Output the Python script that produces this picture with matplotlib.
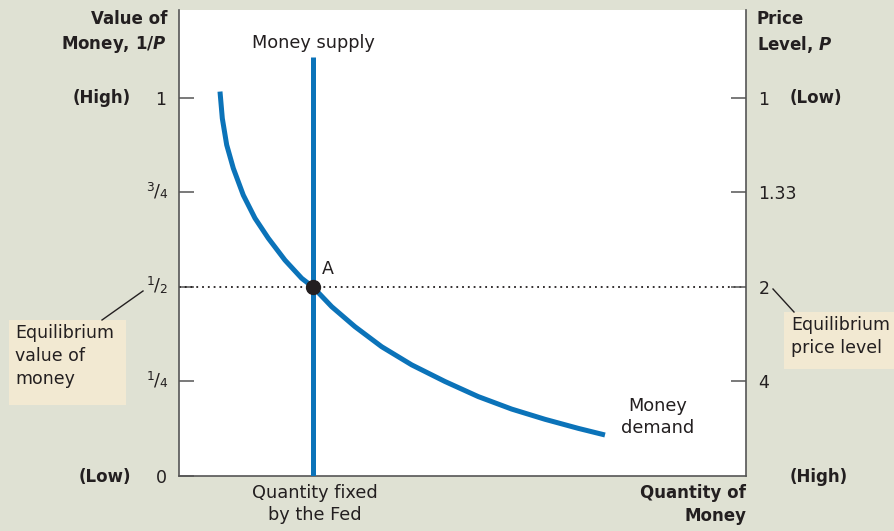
import matplotlib
matplotlib.use("Agg")
import matplotlib.pyplot as plt

# ---- data ----
demand_q = [7.23, 7.64, 8.41, 9.58, 11.34, 13.40, 15.75, 18.69, 21.64, 23.63, 26.93,
            31.04, 35.75, 41.04, 46.91, 52.79, 58.68, 64.55, 70.42, 75.13]
demand_v = [1.017, 0.946, 0.876, 0.814, 0.743, 0.682, 0.629, 0.571, 0.523, 0.500, 0.448,
            0.395, 0.342, 0.294, 0.250, 0.210, 0.177, 0.150, 0.126, 0.1085]
supply_q = 23.63
supply_top = 1.108
eq_value = 0.5
left_ticks = [0, 0.25, 0.5, 0.75, 1.0]
left_labels = ["0", "1/4", "1/2", "3/4", "1"]
right_ticks = [0.25, 0.5, 0.75, 1.0]
right_labels = ["4", "2", "1.33", "1"]

BG = "#dfe1d3"
BLUE = "#0b73b9"
TXT = "#231f20"
BOX = "#f2e9d2"
SPINE = "#555555"

plt.rcParams['font.family'] = ['DejaVu Sans']
plt.rcParams['mathtext.fontset'] = 'dejavusans'
fig = plt.figure(figsize=(8.94, 5.31), dpi=100, facecolor=BG)
W, H = 894, 531
ax = fig.add_axes([179 / W, (H - 476) / H, (746 - 179) / W, (476 - 10) / H])
ax.set_facecolor("white")
ax.set_xlim(0, 100)
ax.set_ylim(0, 1.2328)

ax.spines['top'].set_visible(False)
for s in ['left', 'right', 'bottom']:
    ax.spines[s].set_color(SPINE)
    ax.spines[s].set_linewidth(1.2)

ax.set_xticks([])
ax.set_yticks(left_ticks)
# plain labels go through the tick machinery; fractions are typeset piecewise
ax.set_yticklabels([lbl if '/' not in lbl else '' for lbl in left_labels])
ax.tick_params(axis='y', direction='in', length=11, width=1.1, color=SPINE,
               pad=9, labelsize=12.5, labelcolor=TXT)
for v, lbl in zip(left_ticks, left_labels):
    if '/' in lbl:
        num, den = lbl.split('/')
        common = dict(xy=(0, v), xycoords=('axes fraction', 'data'),
                      textcoords='offset pixels', color=TXT)
        ax.annotate(den, xytext=(-12, -6), ha='right', va='baseline', fontsize=8.8, **common)
        ax.annotate('/', xytext=(-22.5, 1), ha='center', va='center', fontsize=12.5, **common)
        ax.annotate(num, xytext=(-25, 1.5), ha='right', va='baseline', fontsize=8.8, **common)

ax2 = ax.twinx()
ax2.set_ylim(ax.get_ylim())
ax2.set_yticks(right_ticks)
ax2.set_yticklabels(right_labels)
ax2.tick_params(axis='y', direction='in', length=11, width=1.1, color=SPINE,
                pad=9, labelsize=12.5, labelcolor=TXT)
for s in ax2.spines.values():
    s.set_visible(False)

# dotted equilibrium line
ax.plot([0, 100], [eq_value, eq_value], color=TXT, lw=1.3, ls=(0, (1, 2.2)), zorder=2)
# supply
ax.plot([supply_q, supply_q], [0, supply_top], color=BLUE, lw=3.6,
        solid_capstyle='butt', zorder=3)
# demand
ax.plot(demand_q, demand_v, color=BLUE, lw=3.6, solid_capstyle='butt',
        solid_joinstyle='round', zorder=3)
# point A
ax.plot([supply_q], [eq_value], 'o', color=TXT, ms=10, zorder=5)
ax.text(supply_q + 1.6, eq_value + 0.025, "A", fontsize=12.5, color=TXT, va='bottom', ha='left')

ax.text(supply_q, supply_top + 0.015, "Money supply", fontsize=12.8, color=TXT,
        ha='center', va='bottom')
ax.text(84.5, 0.21, "Money\ndemand", fontsize=12.8, color=TXT, ha='center', va='top',
        linespacing=1.3)

def fx(px):
    return px / W

def fy(py):
    return 1 - py / H

bold = dict(fontsize=12, fontweight='bold', color=TXT)
fig.text(fx(167), fy(10), "Value of\nMoney, 1/$\\mathbfit{P}$", ha='right', va='top',
         linespacing=1.4, **bold)
fig.text(fx(757), fy(10), "Price\nLevel, $\\mathbfit{P}$", ha='left', va='top',
         linespacing=1.4, **bold)
fig.text(fx(131), fy(98), "(High)", ha='right', va='center', **bold)
fig.text(fx(131), fy(477), "(Low)", ha='right', va='center', **bold)
fig.text(fx(790), fy(98), "(Low)", ha='left', va='center', **bold)
fig.text(fx(790), fy(477), "(High)", ha='left', va='center', **bold)
fig.text(fx(746), fy(484), "Quantity of\nMoney", ha='right', va='top', linespacing=1.35, **bold)
fig.text(fx(315), fy(484), "Quantity fixed\nby the Fed", ha='center', va='top',
         linespacing=1.3, fontsize=12.8, color=TXT)

# annotation boxes
fig.patches.append(plt.Rectangle((fx(9), fy(405)), (126 - 9) / W, (405 - 320) / H,
                                 transform=fig.transFigure, facecolor=BOX, edgecolor='none'))
fig.text(fx(15), fy(324), "Equilibrium\nvalue of\nmoney", ha='left', va='top',
         linespacing=1.35, fontsize=12.5, color=TXT)
fig.add_artist(plt.Line2D([fx(102), fx(143)], [fy(320), fy(291)], color=TXT, lw=1,
                          transform=fig.transFigure))
fig.patches.append(plt.Rectangle((fx(784), fy(369)), (894 - 784) / W, (369 - 312) / H,
                                 transform=fig.transFigure, facecolor=BOX, edgecolor='none'))
fig.text(fx(791), fy(316), "Equilibrium\nprice level", ha='left', va='top',
         linespacing=1.35, fontsize=12.5, color=TXT)
fig.add_artist(plt.Line2D([fx(773), fx(794)], [fy(289), fy(312)], color=TXT, lw=1,
                          transform=fig.transFigure))

fig.savefig("out.png", dpi=100, facecolor=BG)
